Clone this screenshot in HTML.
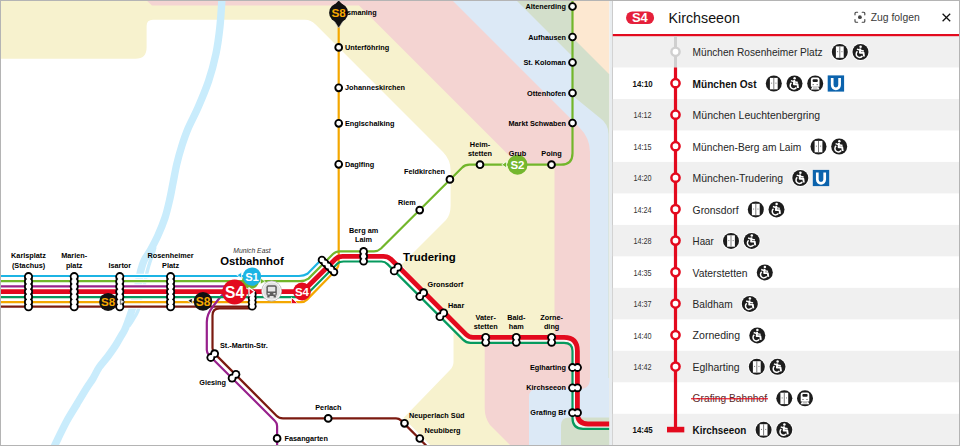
<!DOCTYPE html>
<html lang="de"><head><meta charset="utf-8"><title>S4 Kirchseeon</title>
<style>
html,body{margin:0;padding:0;background:#fff;}
body{width:960px;height:446px;overflow:hidden;position:relative;font-family:"Liberation Sans",sans-serif;}
svg text{font-family:"Liberation Sans",sans-serif;}
</style></head><body>
<svg width="960" height="446" viewBox="0 0 960 446" style="display:block;position:absolute;left:0;top:0">
<defs><clipPath id="mapclip"><rect x="1" y="1" width="608.4" height="444"/></clipPath></defs>
<rect x="0" y="0" width="960" height="446" fill="#ffffff"/>
<g clip-path="url(#mapclip)">
<rect x="0" y="0" width="612" height="446" fill="#fde8d1"/>
<path d="M573,0 L573,38 L609,74 L612,74 L612,446 L0,446 L0,0 Z" fill="#d3dfcb"/>
<path d="M516,0 L573,57 L573,96 L600,118 Q608.5,124 608.5,134 L608.5,446 L0,446 L0,0 Z" fill="#dce9f6"/>
<path d="M452,0 L573,121 L579,127 Q590,138 590,152 L590,446 L0,446 L0,0 Z" fill="#f4d4d2"/>
<path d="M146,0 L152,5.4 L359,5.4 L518.5,165 L549.5,165 Q554.5,165 554.5,170 L554.5,340 L484.7,340 L484.7,408 Q484.7,418 490,425 L512,447 L0,447 L0,0 Z" fill="#f7f2ce"/>
<path d="M529,447 L529,397 Q529,389 537,389 L580,389 Q590,389 590,378 L612,378 L612,447 Z" fill="#dce9f6"/>
<path d="M561,447 L561,425.5 Q561,417.5 569,417.5 L612,417.5 L612,447 Z" fill="#d3dfcb"/>
<path d="M0,58.8 L135.5,58.8 Q146.6,58.8 146.6,47.5 L146.6,26 Q146.6,19.8 153,19.8 L305,19.8 Q311,19.8 315.6,24.6 L443,152 Q450.6,160 450.6,170 L450.6,206 Q450.6,214.5 446,220 L401.5,264.5 L453.5,330 L453.5,362 Q453.5,366.5 450,370 L403.5,418 L432,447 L0,447 Z" fill="#ffffff"/>
<path d="M222,-2 C221.7,2.8 220.9,17.7 219.9,27 C218.9,36.3 217.8,45.0 215.9,54 C214.0,63.0 211.6,72.0 208.6,81 C205.6,90.0 201.2,100.2 197.8,108 C194.4,115.8 191.0,121.7 188.3,128 C185.6,134.3 183.7,140.0 181.8,146 C179.9,152.0 178.2,158.0 176.8,164 C175.4,170.0 174.4,176.0 173.2,182 C172.0,188.0 171.0,194.0 169.6,200 C168.2,206.0 166.9,212.0 164.9,218 C162.9,224.0 160.1,230.7 157.7,236 C155.3,241.3 152.7,246.0 150.5,250 C148.3,254.0 145.9,256.7 144.3,260 C142.7,263.3 142.0,265.7 140.9,270 C139.8,274.3 138.8,280.9 137.8,286 C136.8,291.1 135.7,296.4 134.7,300.5 C133.7,304.6 132.8,307.2 131.7,310.6 C130.6,314.0 129.5,317.4 128.3,320.6 C127.1,323.8 125.9,327.3 124.6,330 C123.3,332.7 121.9,334.5 120.5,337 C119.1,339.5 118.0,341.6 116,344.8 C114.0,348.0 111.0,352.2 108.2,356 C105.4,359.8 101.7,363.6 99.2,367.3 C96.7,371.1 95.0,375.2 93,378.5 C91.0,381.8 90.0,382.8 87.3,387 C84.6,391.2 80.4,398.3 77,404 C73.6,409.7 69.9,415.3 66.8,421 C63.7,426.7 60.6,433.3 58.3,438 C56.0,442.7 53.9,447.2 53,449" fill="none" stroke="#c9ecfc" stroke-width="7.4"/>
<path d="M155,247 C154.7,248.2 153.7,251.8 153,254 C152.3,256.2 151.5,257.3 150.6,260 C149.7,262.7 148.7,265.7 147.6,270 C146.5,274.3 145.1,280.9 143.9,286 C142.7,291.1 141.3,296.4 140.3,300.5 C139.3,304.6 139.2,307.4 138.0,310.6 C136.8,313.9 134.5,317.4 133,320 C131.5,322.6 129.7,325.0 129,326" fill="none" stroke="#c9ecfc" stroke-width="3.4"/>
<path d="M0,276.0 L300,276.0" stroke="#fff" stroke-width="4.5" fill="none"/>
<path d="M0,281.1 L300,281.1" stroke="#fff" stroke-width="4.5" fill="none"/>
<path d="M0,286.4 L300,286.4" stroke="#fff" stroke-width="4.5" fill="none"/>
<path d="M0,291.7 L300,291.7" stroke="#fff" stroke-width="6.8" fill="none"/>
<path d="M0,297.1 L300,297.1" stroke="#fff" stroke-width="4.5" fill="none"/>
<path d="M0,302.1 L300,302.1" stroke="#fff" stroke-width="4.5" fill="none"/>
<path d="M0,306.6 L300,306.6" stroke="#fff" stroke-width="4.5" fill="none"/>
<path d="M0.00,295.05 L298.43,295.05 Q302.93,295.05 305.93,292.67 L336.74,261.79 Q339.01,259.52 343.12,259.52 L382.26,259.52 Q386.08,259.52 388.83,262.28 L464.14,337.62 Q467.26,340.71 471.45,340.71 L564.00,340.71 Q574.36,340.71 574.36,351.00 L574.36,416.10 Q574.36,426.98 584.90,426.98 L612.00,426.98" fill="none" stroke="#fff" stroke-opacity="0.75" stroke-width="2.4" stroke-linejoin="round"/>
<path d="M0,306.6 L249,306.6" fill="none" stroke="#7b1a10" stroke-width="2.2" stroke-linejoin="round"/>
<path d="M249,308.4 L219.5,308.4 Q212.5,308.4 212.5,315.5 L212.5,348 Q212.5,351 214.4,353.4 L276.5,415.7 Q279.1,418.4 283,418.4 L396,418.4 Q399,418.4 401,420.4 L430,449.4" fill="none" stroke="#7b1a10" stroke-width="2.2" stroke-linejoin="round"/>
<path d="M0,302.1 L301,302.1 Q304.5,302.1 307,299.6 L336,270 Q338.7,267 338.7,263 L338.7,14" fill="none" stroke="#f4a700" stroke-width="2.2" stroke-linejoin="round"/>
<path d="M0,286.4 L226,286.4" fill="none" stroke="#97208c" stroke-width="2.2" stroke-linejoin="round"/>
<path d="M236,290 L227,292.5 Q222.5,294 219.5,298 L213.2,306.2 Q206.8,314 206.8,322 L206.8,350 Q206.8,353 209,355.2 L275,421 Q277.1,423 277.1,426 L277.1,447" fill="none" stroke="#97208c" stroke-width="2.2" stroke-linejoin="round"/>
<path d="M0,276.0 L299,276.0 Q304,276.0 307.5,273.8 L320.5,260.5" fill="none" stroke="#1cb4e4" stroke-width="2.2" stroke-linejoin="round"/>
<path d="M0,281.1 L300,281.1 Q305,281.1 308.5,278.6 L333,254 Q335.7,251.3 340,251.3 L374,251.3 Q378,251.3 381,248.5 L462,167.7 Q465,164.7 469.5,164.7 L561,164.7 Q572.5,164.7 572.5,153.2 L572.5,-2" fill="none" stroke="#72b62b" stroke-width="2.2" stroke-linejoin="round"/>
<path d="M0,297.1 L299,297.1 Q303.5,297.1 306.5,294.8 L337.5,263.5 Q339.5,261.5 343.5,261.5 L381.5,261.5 Q384.9,261.5 387.5,264.1 L463,339.6 Q466.2,342.8 470.5,342.8 L564,342.8 Q572.5,342.8 572.5,351 L572.5,418 Q572.5,428.8 583,428.8 L612,428.8" fill="none" stroke="#069a5e" stroke-width="2.2" stroke-linejoin="round"/>
<path d="M0,291.7 L297.5,291.7 Q302,291.7 305,289.2 L335.5,259 Q338.2,256.3 342.5,256.3 L383.5,256.3 Q388,256.3 391,259.3 L466,334.4 Q469,337.3 473,337.3 L564,337.3 Q577.4,337.3 577.4,351 L577.4,413 Q577.4,424 588,424 L612,424" fill="none" stroke="#e30a1e" stroke-width="4.8" stroke-linejoin="round"/>
<circle cx="28.5" cy="276.6" r="4.5" fill="#000"/>
<circle cx="28.5" cy="281.5" r="4.5" fill="#000"/>
<circle cx="28.5" cy="286.5" r="4.5" fill="#000"/>
<circle cx="28.5" cy="291.6" r="4.5" fill="#000"/>
<circle cx="28.5" cy="296.8" r="4.5" fill="#000"/>
<circle cx="28.5" cy="301.9" r="4.5" fill="#000"/>
<circle cx="28.5" cy="306.7" r="4.5" fill="#000"/>
<path d="M28.5,276.6 L28.5,281.5 L28.5,286.5 L28.5,291.6 L28.5,296.8 L28.5,301.9 L28.5,306.7" stroke="#000" stroke-width="8.0" fill="none"/>
<path d="M28.5,276.6 L28.5,281.5 L28.5,286.5 L28.5,291.6 L28.5,296.8 L28.5,301.9 L28.5,306.7" stroke="#fff" stroke-width="3.0" fill="none"/>
<circle cx="28.5" cy="276.6" r="2.7" fill="#fff"/>
<circle cx="28.5" cy="281.5" r="2.7" fill="#fff"/>
<circle cx="28.5" cy="286.5" r="2.7" fill="#fff"/>
<circle cx="28.5" cy="291.6" r="2.7" fill="#fff"/>
<circle cx="28.5" cy="296.8" r="2.7" fill="#fff"/>
<circle cx="28.5" cy="301.9" r="2.7" fill="#fff"/>
<circle cx="28.5" cy="306.7" r="2.7" fill="#fff"/>
<circle cx="74.2" cy="276.6" r="4.5" fill="#000"/>
<circle cx="74.2" cy="281.5" r="4.5" fill="#000"/>
<circle cx="74.2" cy="286.5" r="4.5" fill="#000"/>
<circle cx="74.2" cy="291.6" r="4.5" fill="#000"/>
<circle cx="74.2" cy="296.8" r="4.5" fill="#000"/>
<circle cx="74.2" cy="301.9" r="4.5" fill="#000"/>
<circle cx="74.2" cy="306.7" r="4.5" fill="#000"/>
<path d="M74.2,276.6 L74.2,281.5 L74.2,286.5 L74.2,291.6 L74.2,296.8 L74.2,301.9 L74.2,306.7" stroke="#000" stroke-width="8.0" fill="none"/>
<path d="M74.2,276.6 L74.2,281.5 L74.2,286.5 L74.2,291.6 L74.2,296.8 L74.2,301.9 L74.2,306.7" stroke="#fff" stroke-width="3.0" fill="none"/>
<circle cx="74.2" cy="276.6" r="2.7" fill="#fff"/>
<circle cx="74.2" cy="281.5" r="2.7" fill="#fff"/>
<circle cx="74.2" cy="286.5" r="2.7" fill="#fff"/>
<circle cx="74.2" cy="291.6" r="2.7" fill="#fff"/>
<circle cx="74.2" cy="296.8" r="2.7" fill="#fff"/>
<circle cx="74.2" cy="301.9" r="2.7" fill="#fff"/>
<circle cx="74.2" cy="306.7" r="2.7" fill="#fff"/>
<circle cx="119.8" cy="276.6" r="4.5" fill="#000"/>
<circle cx="119.8" cy="281.5" r="4.5" fill="#000"/>
<circle cx="119.8" cy="286.5" r="4.5" fill="#000"/>
<circle cx="119.8" cy="291.6" r="4.5" fill="#000"/>
<circle cx="119.8" cy="296.8" r="4.5" fill="#000"/>
<circle cx="119.8" cy="301.9" r="4.5" fill="#000"/>
<circle cx="119.8" cy="306.7" r="4.5" fill="#000"/>
<path d="M119.8,276.6 L119.8,281.5 L119.8,286.5 L119.8,291.6 L119.8,296.8 L119.8,301.9 L119.8,306.7" stroke="#000" stroke-width="8.0" fill="none"/>
<path d="M119.8,276.6 L119.8,281.5 L119.8,286.5 L119.8,291.6 L119.8,296.8 L119.8,301.9 L119.8,306.7" stroke="#fff" stroke-width="3.0" fill="none"/>
<circle cx="119.8" cy="276.6" r="2.7" fill="#fff"/>
<circle cx="119.8" cy="281.5" r="2.7" fill="#fff"/>
<circle cx="119.8" cy="286.5" r="2.7" fill="#fff"/>
<circle cx="119.8" cy="291.6" r="2.7" fill="#fff"/>
<circle cx="119.8" cy="296.8" r="2.7" fill="#fff"/>
<circle cx="119.8" cy="301.9" r="2.7" fill="#fff"/>
<circle cx="119.8" cy="306.7" r="2.7" fill="#fff"/>
<circle cx="170.6" cy="276.6" r="4.5" fill="#000"/>
<circle cx="170.6" cy="281.5" r="4.5" fill="#000"/>
<circle cx="170.6" cy="286.5" r="4.5" fill="#000"/>
<circle cx="170.6" cy="291.6" r="4.5" fill="#000"/>
<circle cx="170.6" cy="296.8" r="4.5" fill="#000"/>
<circle cx="170.6" cy="301.9" r="4.5" fill="#000"/>
<circle cx="170.6" cy="306.7" r="4.5" fill="#000"/>
<path d="M170.6,276.6 L170.6,281.5 L170.6,286.5 L170.6,291.6 L170.6,296.8 L170.6,301.9 L170.6,306.7" stroke="#000" stroke-width="8.0" fill="none"/>
<path d="M170.6,276.6 L170.6,281.5 L170.6,286.5 L170.6,291.6 L170.6,296.8 L170.6,301.9 L170.6,306.7" stroke="#fff" stroke-width="3.0" fill="none"/>
<circle cx="170.6" cy="276.6" r="2.7" fill="#fff"/>
<circle cx="170.6" cy="281.5" r="2.7" fill="#fff"/>
<circle cx="170.6" cy="286.5" r="2.7" fill="#fff"/>
<circle cx="170.6" cy="291.6" r="2.7" fill="#fff"/>
<circle cx="170.6" cy="296.8" r="2.7" fill="#fff"/>
<circle cx="170.6" cy="301.9" r="2.7" fill="#fff"/>
<circle cx="170.6" cy="306.7" r="2.7" fill="#fff"/>
<circle cx="252.2" cy="294.4" r="4.4" fill="#000"/>
<circle cx="252.2" cy="298.3" r="4.4" fill="#000"/>
<circle cx="252.2" cy="302.2" r="4.4" fill="#000"/>
<circle cx="252.2" cy="306.2" r="4.4" fill="#000"/>
<path d="M252.2,294.4 L252.2,298.3 L252.2,302.2 L252.2,306.2" stroke="#000" stroke-width="6.4" fill="none"/>
<path d="M252.2,294.4 L252.2,298.3 L252.2,302.2 L252.2,306.2" stroke="#fff" stroke-width="2.2" fill="none"/>
<circle cx="252.2" cy="294.4" r="2.6" fill="#fff"/>
<circle cx="252.2" cy="298.3" r="2.6" fill="#fff"/>
<circle cx="252.2" cy="302.2" r="2.6" fill="#fff"/>
<circle cx="252.2" cy="306.2" r="2.6" fill="#fff"/>
<circle cx="321.9" cy="259.9" r="4.2" fill="#000"/>
<circle cx="324.9" cy="262.9" r="4.2" fill="#000"/>
<circle cx="328.0" cy="266.0" r="4.2" fill="#000"/>
<circle cx="331.1" cy="269.1" r="4.2" fill="#000"/>
<circle cx="334.1" cy="272.1" r="4.2" fill="#000"/>
<path d="M321.9,259.9 L324.9,262.9 L328.0,266.0 L331.1,269.1 L334.1,272.1" stroke="#000" stroke-width="7.4" fill="none"/>
<path d="M321.9,259.9 L324.9,262.9 L328.0,266.0 L331.1,269.1 L334.1,272.1" stroke="#fff" stroke-width="2.6" fill="none"/>
<circle cx="321.9" cy="259.9" r="2.4" fill="#fff"/>
<circle cx="324.9" cy="262.9" r="2.4" fill="#fff"/>
<circle cx="328.0" cy="266.0" r="2.4" fill="#fff"/>
<circle cx="331.1" cy="269.1" r="2.4" fill="#fff"/>
<circle cx="334.1" cy="272.1" r="2.4" fill="#fff"/>
<circle cx="363.6" cy="251.4" r="4.3" fill="#000"/>
<circle cx="363.6" cy="256.3" r="4.3" fill="#000"/>
<circle cx="363.6" cy="261.2" r="4.3" fill="#000"/>
<path d="M363.6,251.4 L363.6,256.3 L363.6,261.2" stroke="#000" stroke-width="7.6" fill="none"/>
<path d="M363.6,251.4 L363.6,256.3 L363.6,261.2" stroke="#fff" stroke-width="2.6" fill="none"/>
<circle cx="363.6" cy="251.4" r="2.5" fill="#fff"/>
<circle cx="363.6" cy="256.3" r="2.5" fill="#fff"/>
<circle cx="363.6" cy="261.2" r="2.5" fill="#fff"/>
<circle cx="394.2" cy="270.9" r="4.4" fill="#000"/>
<circle cx="398.0" cy="267.1" r="4.4" fill="#000"/>
<path d="M394.2,270.9 L398.0,267.1" stroke="#000" stroke-width="5.8" fill="none"/>
<path d="M394.2,270.9 L398.0,267.1" stroke="#fff" stroke-width="2.4" fill="none"/>
<circle cx="394.2" cy="270.9" r="2.55" fill="#fff"/>
<circle cx="398.0" cy="267.1" r="2.55" fill="#fff"/>
<circle cx="419.8" cy="296.5" r="4.4" fill="#000"/>
<circle cx="423.6" cy="292.7" r="4.4" fill="#000"/>
<path d="M419.8,296.5 L423.6,292.7" stroke="#000" stroke-width="5.8" fill="none"/>
<path d="M419.8,296.5 L423.6,292.7" stroke="#fff" stroke-width="2.4" fill="none"/>
<circle cx="419.8" cy="296.5" r="2.55" fill="#fff"/>
<circle cx="423.6" cy="292.7" r="2.55" fill="#fff"/>
<circle cx="439.9" cy="316.7" r="4.4" fill="#000"/>
<circle cx="443.7" cy="312.9" r="4.4" fill="#000"/>
<path d="M439.9,316.7 L443.7,312.9" stroke="#000" stroke-width="5.8" fill="none"/>
<path d="M439.9,316.7 L443.7,312.9" stroke="#fff" stroke-width="2.4" fill="none"/>
<circle cx="439.9" cy="316.7" r="2.55" fill="#fff"/>
<circle cx="443.7" cy="312.9" r="2.55" fill="#fff"/>
<circle cx="485.7" cy="337.3" r="4.4" fill="#000"/>
<circle cx="485.7" cy="342.3" r="4.4" fill="#000"/>
<path d="M485.7,337.3 L485.7,342.3" stroke="#000" stroke-width="5.8" fill="none"/>
<path d="M485.7,337.3 L485.7,342.3" stroke="#fff" stroke-width="2.4" fill="none"/>
<circle cx="485.7" cy="337.3" r="2.55" fill="#fff"/>
<circle cx="485.7" cy="342.3" r="2.55" fill="#fff"/>
<circle cx="516.3" cy="337.3" r="4.4" fill="#000"/>
<circle cx="516.3" cy="342.3" r="4.4" fill="#000"/>
<path d="M516.3,337.3 L516.3,342.3" stroke="#000" stroke-width="5.8" fill="none"/>
<path d="M516.3,337.3 L516.3,342.3" stroke="#fff" stroke-width="2.4" fill="none"/>
<circle cx="516.3" cy="337.3" r="2.55" fill="#fff"/>
<circle cx="516.3" cy="342.3" r="2.55" fill="#fff"/>
<circle cx="551.6" cy="337.3" r="4.4" fill="#000"/>
<circle cx="551.6" cy="342.3" r="4.4" fill="#000"/>
<path d="M551.6,337.3 L551.6,342.3" stroke="#000" stroke-width="5.8" fill="none"/>
<path d="M551.6,337.3 L551.6,342.3" stroke="#fff" stroke-width="2.4" fill="none"/>
<circle cx="551.6" cy="337.3" r="2.55" fill="#fff"/>
<circle cx="551.6" cy="342.3" r="2.55" fill="#fff"/>
<circle cx="572.5" cy="367.5" r="4.4" fill="#000"/>
<circle cx="577.5" cy="367.5" r="4.4" fill="#000"/>
<path d="M572.5,367.5 L577.5,367.5" stroke="#000" stroke-width="5.8" fill="none"/>
<path d="M572.5,367.5 L577.5,367.5" stroke="#fff" stroke-width="2.4" fill="none"/>
<circle cx="572.5" cy="367.5" r="2.55" fill="#fff"/>
<circle cx="577.5" cy="367.5" r="2.55" fill="#fff"/>
<circle cx="572.5" cy="387.8" r="4.4" fill="#000"/>
<circle cx="577.5" cy="387.8" r="4.4" fill="#000"/>
<path d="M572.5,387.8 L577.5,387.8" stroke="#000" stroke-width="5.8" fill="none"/>
<path d="M572.5,387.8 L577.5,387.8" stroke="#fff" stroke-width="2.4" fill="none"/>
<circle cx="572.5" cy="387.8" r="2.55" fill="#fff"/>
<circle cx="577.5" cy="387.8" r="2.55" fill="#fff"/>
<circle cx="572.5" cy="412.7" r="4.4" fill="#000"/>
<circle cx="577.5" cy="412.7" r="4.4" fill="#000"/>
<path d="M572.5,412.7 L577.5,412.7" stroke="#000" stroke-width="5.8" fill="none"/>
<path d="M572.5,412.7 L577.5,412.7" stroke="#fff" stroke-width="2.4" fill="none"/>
<circle cx="572.5" cy="412.7" r="2.55" fill="#fff"/>
<circle cx="577.5" cy="412.7" r="2.55" fill="#fff"/>
<circle cx="210.8" cy="357.5" r="4.4" fill="#000"/>
<circle cx="214.6" cy="353.7" r="4.4" fill="#000"/>
<path d="M210.8,357.5 L214.6,353.7" stroke="#000" stroke-width="5.8" fill="none"/>
<path d="M210.8,357.5 L214.6,353.7" stroke="#fff" stroke-width="2.4" fill="none"/>
<circle cx="210.8" cy="357.5" r="2.55" fill="#fff"/>
<circle cx="214.6" cy="353.7" r="2.55" fill="#fff"/>
<circle cx="232.1" cy="378.1" r="4.4" fill="#000"/>
<circle cx="235.9" cy="374.3" r="4.4" fill="#000"/>
<path d="M232.1,378.1 L235.9,374.3" stroke="#000" stroke-width="5.8" fill="none"/>
<path d="M232.1,378.1 L235.9,374.3" stroke="#fff" stroke-width="2.4" fill="none"/>
<circle cx="232.1" cy="378.1" r="2.55" fill="#fff"/>
<circle cx="235.9" cy="374.3" r="2.55" fill="#fff"/>
<circle cx="338.7" cy="47.4" r="3.4" fill="#fff" stroke="#000" stroke-width="1.9"/>
<circle cx="338.7" cy="87.8" r="3.4" fill="#fff" stroke="#000" stroke-width="1.9"/>
<circle cx="338.7" cy="123.3" r="3.4" fill="#fff" stroke="#000" stroke-width="1.9"/>
<circle cx="338.7" cy="164.3" r="3.4" fill="#fff" stroke="#000" stroke-width="1.9"/>
<circle cx="572.5" cy="6.5" r="3.4" fill="#fff" stroke="#000" stroke-width="1.9"/>
<circle cx="572.5" cy="37" r="3.4" fill="#fff" stroke="#000" stroke-width="1.9"/>
<circle cx="572.5" cy="62.5" r="3.4" fill="#fff" stroke="#000" stroke-width="1.9"/>
<circle cx="572.5" cy="93" r="3.4" fill="#fff" stroke="#000" stroke-width="1.9"/>
<circle cx="572.5" cy="123" r="3.4" fill="#fff" stroke="#000" stroke-width="1.9"/>
<circle cx="551.5" cy="164.7" r="3.4" fill="#fff" stroke="#000" stroke-width="1.9"/>
<circle cx="480" cy="164.7" r="3.4" fill="#fff" stroke="#000" stroke-width="1.9"/>
<circle cx="449.9" cy="179.4" r="3.4" fill="#fff" stroke="#000" stroke-width="1.9"/>
<circle cx="419.7" cy="210.1" r="3.4" fill="#fff" stroke="#000" stroke-width="1.9"/>
<circle cx="328.2" cy="418.4" r="3.4" fill="#fff" stroke="#000" stroke-width="1.9"/>
<circle cx="404.5" cy="423.3" r="3.4" fill="#fff" stroke="#000" stroke-width="1.9"/>
<circle cx="419.8" cy="438.5" r="3.4" fill="#fff" stroke="#000" stroke-width="1.9"/>
<circle cx="277.1" cy="438.4" r="3.4" fill="#fff" stroke="#000" stroke-width="1.9"/>
<path d="M120.3,299.2 L124.6,301.8 L120.3,304.4 Z" fill="#e8e8e8" stroke="#333" stroke-width="0.7"/>
<circle cx="108.1" cy="301.9" r="9.0" fill="#111"/>
<text x="108.1" y="306.1" font-size="11.6" font-weight="bold" fill="#f4a700" text-anchor="middle">S8</text>
<path d="M192.2,298 L187.8,300.8 L192.2,303.6 Z" fill="#111" stroke="#fff" stroke-width="0.8"/>
<circle cx="203" cy="301.4" r="9.3" fill="#111"/>
<text x="203" y="305.7" font-size="12" font-weight="bold" fill="#f4a700" text-anchor="middle">S8</text>
<path d="M333.5,6 L338.7,0.5 L344,6 Z" fill="#111"/>
<path d="M333.6,20 L338.7,28 L343.8,20 Z" fill="#111" stroke="#cfcfcf" stroke-width="0.6"/>
<circle cx="338.6" cy="12.8" r="9.5" fill="#111"/>
<text x="338.6" y="17.0" font-size="11.8" font-weight="bold" fill="#f4a700" text-anchor="middle">S8</text>
<path d="M506.6,161.4 L501.8,164.7 L506.6,168 Z" fill="#72b62b" stroke="#fff" stroke-width="0.8"/>
<circle cx="517.5" cy="164.7" r="10" fill="#74b72e"/>
<text x="517.5" y="168.8" font-size="11.5" font-weight="bold" fill="#fff" text-anchor="middle">S2</text>
<circle cx="271.6" cy="291" r="10.4" fill="#bcbcbc"/><circle cx="271.6" cy="291" r="9.6" fill="#ffffff"/><circle cx="271.6" cy="291" r="8.8" fill="#e2e2e2"/>
<rect x="266.4" y="285.2" width="10.4" height="10.8" rx="2" fill="#5d5d5d"/>
<rect x="267.9" y="286.8" width="7.4" height="4.8" rx="0.7" fill="#e6e6e6"/>
<rect x="267.7" y="293" width="2.1" height="1.5" fill="#e6e6e6"/><rect x="273.4" y="293" width="2.1" height="1.5" fill="#e6e6e6"/>
<rect x="267.3" y="296" width="2.3" height="1.5" fill="#5d5d5d"/><rect x="273.6" y="296" width="2.3" height="1.5" fill="#5d5d5d"/>
<path d="M291.5,297.5 L291.5,303.5 L297.5,303.5 Z" fill="#e30a1e" stroke="#fff" stroke-width="0.7"/>
<circle cx="302" cy="291.5" r="8.9" fill="#e30a1e"/>
<text x="302" y="295.6" font-size="11.5" font-weight="bold" fill="#fff" text-anchor="middle">S4</text>
<path d="M260.5,278.3 L265.2,281.3 L260.5,284.3 Z" fill="#72b62b" stroke="#fff" stroke-width="0.7"/>
<circle cx="250.5" cy="280.4" r="8.5" fill="#72b62b"/>
<path d="M241.6,272.3 L236.8,275.2 L241.6,278.2 Z" fill="#1cb4e4" stroke="#fff" stroke-width="0.8"/>
<circle cx="252" cy="276.6" r="9.2" fill="#1cb4e4"/>
<text x="252" y="280.6" font-size="11.2" font-weight="bold" fill="#fff" text-anchor="middle">S1</text>
<circle cx="234.6" cy="292" r="12.4" fill="#e30a1e"/>
<text x="234.6" y="297.6" font-size="15.6" font-weight="bold" fill="#fff" text-anchor="middle">S4</text>
<path d="M249.0,287.7 L254.6,291.8 L249.0,295.9 Z" fill="#e30a1e" stroke="#fff" stroke-width="1.3" stroke-linejoin="round"/>
<text x="28.5" y="258.3" font-size="7.3" font-weight="bold" fill="#000" text-anchor="middle">Karlsplatz</text>
<text x="28.5" y="267.5" font-size="7.3" font-weight="bold" fill="#000" text-anchor="middle">(Stachus)</text>
<text x="74.2" y="258.3" font-size="7.3" font-weight="bold" fill="#000" text-anchor="middle">Marien-</text>
<text x="74.2" y="267.5" font-size="7.3" font-weight="bold" fill="#000" text-anchor="middle">platz</text>
<text x="119.8" y="267.5" font-size="7.3" font-weight="bold" fill="#000" text-anchor="middle">Isartor</text>
<text x="170.6" y="258.3" font-size="7.3" font-weight="bold" fill="#000" text-anchor="middle">Rosenheimer</text>
<text x="170.6" y="267.5" font-size="7.3" font-weight="bold" fill="#000" text-anchor="middle">Platz</text>
<text x="252" y="252.5" font-size="6.8" font-weight="normal" fill="#333" text-anchor="middle" font-style="italic">Munich East</text>
<text x="252" y="265.3" font-size="11.3" font-weight="bold" fill="#000" text-anchor="middle">Ostbahnhof</text>
<text x="429.3" y="260.9" font-size="11.45" font-weight="bold" fill="#000" text-anchor="middle">Trudering</text>
<text x="345" y="14.6" font-size="7.2" font-weight="bold" fill="#000" text-anchor="start">Ismaning</text>
<text x="345" y="50" font-size="7.3" font-weight="bold" fill="#000" text-anchor="start">Unterföhring</text>
<text x="345" y="90.4" font-size="7.3" font-weight="bold" fill="#000" text-anchor="start">Johanneskirchen</text>
<text x="345" y="125.9" font-size="7.3" font-weight="bold" fill="#000" text-anchor="start">Englschalking</text>
<text x="345" y="166.9" font-size="7.3" font-weight="bold" fill="#000" text-anchor="start">Daglfing</text>
<text x="566" y="9" font-size="7.3" font-weight="bold" fill="#000" text-anchor="end">Altenerding</text>
<text x="566" y="39.6" font-size="7.3" font-weight="bold" fill="#000" text-anchor="end">Aufhausen</text>
<text x="566" y="65" font-size="7.3" font-weight="bold" fill="#000" text-anchor="end">St. Koloman</text>
<text x="566" y="95.6" font-size="7.3" font-weight="bold" fill="#000" text-anchor="end">Ottenhofen</text>
<text x="566" y="125.6" font-size="7.3" font-weight="bold" fill="#000" text-anchor="end">Markt Schwaben</text>
<text x="551.5" y="155.9" font-size="7.3" font-weight="bold" fill="#000" text-anchor="middle">Poing</text>
<text x="517.5" y="155.9" font-size="7.3" font-weight="bold" fill="#000" text-anchor="middle">Grub</text>
<text x="480" y="146.8" font-size="7.3" font-weight="bold" fill="#000" text-anchor="middle">Heim-</text>
<text x="480" y="155.9" font-size="7.3" font-weight="bold" fill="#000" text-anchor="middle">stetten</text>
<text x="445" y="173.9" font-size="7.3" font-weight="bold" fill="#000" text-anchor="end">Feldkirchen</text>
<text x="415.8" y="204.6" font-size="7.3" font-weight="bold" fill="#000" text-anchor="end">Riem</text>
<text x="363.6" y="233.4" font-size="7.3" font-weight="bold" fill="#000" text-anchor="middle">Berg am</text>
<text x="363.6" y="242.3" font-size="7.3" font-weight="bold" fill="#000" text-anchor="middle">Laim</text>
<text x="427.5" y="287" font-size="7.3" font-weight="bold" fill="#000" text-anchor="start">Gronsdorf</text>
<text x="448" y="308" font-size="7.3" font-weight="bold" fill="#000" text-anchor="start">Haar</text>
<text x="485.7" y="320" font-size="7.3" font-weight="bold" fill="#000" text-anchor="middle">Vater-</text>
<text x="485.7" y="329.2" font-size="7.3" font-weight="bold" fill="#000" text-anchor="middle">stetten</text>
<text x="516.3" y="320" font-size="7.3" font-weight="bold" fill="#000" text-anchor="middle">Bald-</text>
<text x="516.3" y="329.2" font-size="7.3" font-weight="bold" fill="#000" text-anchor="middle">ham</text>
<text x="551.6" y="320" font-size="7.3" font-weight="bold" fill="#000" text-anchor="middle">Zorne-</text>
<text x="551.6" y="329.2" font-size="7.3" font-weight="bold" fill="#000" text-anchor="middle">ding</text>
<text x="566" y="370" font-size="7.3" font-weight="bold" fill="#000" text-anchor="end">Eglharting</text>
<text x="566" y="390.4" font-size="7.3" font-weight="bold" fill="#000" text-anchor="end">Kirchseeon</text>
<text x="566" y="415.3" font-size="7.3" font-weight="bold" fill="#000" text-anchor="end">Grafing Bf</text>
<text x="220" y="348.4" font-size="7.3" font-weight="bold" fill="#000" text-anchor="start">St.-Martin-Str.</text>
<text x="226" y="385.3" font-size="7.3" font-weight="bold" fill="#000" text-anchor="end">Giesing</text>
<text x="328.4" y="409.7" font-size="7.3" font-weight="bold" fill="#000" text-anchor="middle">Perlach</text>
<text x="409" y="418.1" font-size="7.3" font-weight="bold" fill="#000" text-anchor="start">Neuperlach Süd</text>
<text x="424.5" y="432.9" font-size="7.3" font-weight="bold" fill="#000" text-anchor="start">Neubiberg</text>
<text x="284.5" y="440.8" font-size="7.3" font-weight="bold" fill="#000" text-anchor="start">Fasangarten</text>
</g>
<rect x="609.4" y="1" width="2.8" height="444" fill="#e9edf0"/>
<rect x="612.0" y="1" width="0.9" height="444" fill="#b9b9b9"/>
<rect x="612.8" y="1" width="346.20000000000005" height="444" fill="#ffffff"/>
<rect x="612.8" y="36.00" width="346.20000000000005" height="31.48" fill="#f0f0f0"/>
<rect x="612.8" y="98.96" width="346.20000000000005" height="31.48" fill="#f0f0f0"/>
<rect x="612.8" y="161.92" width="346.20000000000005" height="31.48" fill="#f0f0f0"/>
<rect x="612.8" y="224.88" width="346.20000000000005" height="31.48" fill="#f0f0f0"/>
<rect x="612.8" y="287.84" width="346.20000000000005" height="31.48" fill="#f0f0f0"/>
<rect x="612.8" y="350.80" width="346.20000000000005" height="31.48" fill="#f0f0f0"/>
<rect x="612.8" y="413.76" width="346.20000000000005" height="31.48" fill="#f0f0f0"/>
<rect x="612.8" y="34" width="346.20000000000005" height="2.2" fill="#e30a1e"/>
<rect x="626" y="11.4" width="28.1" height="12.7" rx="6.35" fill="#e5203a"/>
<text x="639.9" y="21.8" font-size="12.3" font-weight="bold" fill="#fff" text-anchor="middle" textLength="15.9" lengthAdjust="spacingAndGlyphs">S4</text>
<text x="668.6" y="22.9" font-size="14.8" fill="#111" textLength="71.2" lengthAdjust="spacingAndGlyphs">Kirchseeon</text>
<g fill="none" stroke="#444" stroke-width="1.15" stroke-linejoin="round" stroke-linecap="round"><path d="M855,14.8 V13.2 Q855,12.2 856,12.2 H857.6"/><path d="M862.2,12.2 H863.8 Q864.8,12.2 864.8,13.2 V14.8"/><path d="M864.8,19.6 V21.2 Q864.8,22.2 863.8,22.2 H862.2"/><path d="M857.6,22.2 H856 Q855,22.2 855,21.2 V19.6"/></g><circle cx="859.9" cy="17.2" r="1.9" fill="#444"/>
<text x="870.7" y="21.3" font-size="10.6" fill="#3a3a3a" textLength="49" lengthAdjust="spacingAndGlyphs">Zug folgen</text>
<path d="M942.6,13.8 L950.2,21.2 M950.2,13.8 L942.6,21.2" stroke="#111" stroke-width="1.25" fill="none"/>
<rect x="674.0" y="36.2" width="3" height="31.48" fill="#cfcfcf"/>
<rect x="673.9" y="67.48" width="3.2" height="362.02" fill="#e30a1e"/>
<rect x="667" y="426.80" width="17.3" height="5.6" fill="#e30a1e"/>
<circle cx="675.5" cy="51.74" r="4.1" fill="#fff" stroke="#cfcfcf" stroke-width="2.4"/>
<circle cx="675.5" cy="83.22" r="4.1" fill="#fff" stroke="#e30a1e" stroke-width="2.5"/>
<circle cx="675.5" cy="114.70" r="4.1" fill="#fff" stroke="#e30a1e" stroke-width="2.5"/>
<circle cx="675.5" cy="146.18" r="4.1" fill="#fff" stroke="#e30a1e" stroke-width="2.5"/>
<circle cx="675.5" cy="177.66" r="4.1" fill="#fff" stroke="#e30a1e" stroke-width="2.5"/>
<circle cx="675.5" cy="209.14" r="4.1" fill="#fff" stroke="#e30a1e" stroke-width="2.5"/>
<circle cx="675.5" cy="240.62" r="4.1" fill="#fff" stroke="#e30a1e" stroke-width="2.5"/>
<circle cx="675.5" cy="272.10" r="4.1" fill="#fff" stroke="#e30a1e" stroke-width="2.5"/>
<circle cx="675.5" cy="303.58" r="4.1" fill="#fff" stroke="#e30a1e" stroke-width="2.5"/>
<circle cx="675.5" cy="335.06" r="4.1" fill="#fff" stroke="#e30a1e" stroke-width="2.5"/>
<circle cx="675.5" cy="366.54" r="4.1" fill="#fff" stroke="#e30a1e" stroke-width="2.5"/>
<text x="692.6" y="56.14" font-size="11.3" font-weight="normal" fill="#262626" textLength="130" lengthAdjust="spacingAndGlyphs">München Rosenheimer Platz</text>
<circle cx="839.8" cy="52.0" r="8.9" fill="#fff"/><circle cx="839.8" cy="52.0" r="8" fill="#1d1d1d"/>
<rect x="835.9" y="46.4" width="7.8" height="11.4" fill="#fff"/>
<rect x="839.3" y="46.4" width="1" height="11.4" fill="#7a7a7a"/>
<rect x="837.2" y="51.1" width="0.9" height="1.1" fill="#777"/><rect x="841.5" y="51.1" width="0.9" height="1.1" fill="#777"/>
<circle cx="860.5" cy="52.0" r="8.9" fill="#fff"/><circle cx="860.5" cy="52.0" r="8" fill="#1d1d1d"/>
<circle cx="860.6" cy="46.7" r="1.25" fill="#fff"/>
<path d="M860.3,48.5 L859.9,52.7 L863.5,52.7 L864.0,56.5" fill="none" stroke="#fff" stroke-width="1.9" stroke-linejoin="round"/>
<path d="M856.9,49.1 L860.1,50.2 L863.8,51.0" fill="none" stroke="#fff" stroke-width="1.4" stroke-linejoin="round"/>
<path d="M857.5,51.4 A3.4,3.4 0 1 0 862.4,56.0" fill="none" stroke="#fff" stroke-width="1.5"/>
<text x="642.6" y="86.92" font-size="9" font-weight="bold" fill="#111" text-anchor="middle" textLength="20.2" lengthAdjust="spacingAndGlyphs">14:10</text>
<text x="692.6" y="87.62" font-size="11.3" font-weight="bold" fill="#111" textLength="64" lengthAdjust="spacingAndGlyphs">München Ost</text>
<circle cx="773.8" cy="83.5" r="8.9" fill="#fff"/><circle cx="773.8" cy="83.5" r="8" fill="#1d1d1d"/>
<rect x="769.9" y="77.9" width="7.8" height="11.4" fill="#fff"/>
<rect x="773.3" y="77.9" width="1" height="11.4" fill="#7a7a7a"/>
<rect x="771.2" y="82.6" width="0.9" height="1.1" fill="#777"/><rect x="775.5" y="82.6" width="0.9" height="1.1" fill="#777"/>
<circle cx="794.5" cy="83.5" r="8.9" fill="#fff"/><circle cx="794.5" cy="83.5" r="8" fill="#1d1d1d"/>
<circle cx="794.6" cy="78.2" r="1.25" fill="#fff"/>
<path d="M794.3,80.0 L793.9,84.2 L797.5,84.2 L798.0,88.0" fill="none" stroke="#fff" stroke-width="1.9" stroke-linejoin="round"/>
<path d="M790.9,80.6 L794.1,81.7 L797.8,82.5" fill="none" stroke="#fff" stroke-width="1.4" stroke-linejoin="round"/>
<path d="M791.5,82.9 A3.4,3.4 0 1 0 796.4,87.5" fill="none" stroke="#fff" stroke-width="1.5"/>
<circle cx="815.2" cy="83.5" r="8.9" fill="#fff"/><circle cx="815.2" cy="83.5" r="8" fill="#1d1d1d"/>
<path d="M810.9,86.7 V79.6 Q810.9,77.6 812.9,77.6 H817.5 Q819.5,77.6 819.5,79.6 V86.7 Z" fill="#fff"/>
<rect x="812.6" y="79.2" width="5.2" height="2.7" rx="1" fill="#1d1d1d"/>
<rect x="812.6" y="84.3" width="1.2" height="0.8" fill="#444"/><rect x="816.6" y="84.3" width="1.2" height="0.8" fill="#444"/>
<path d="M812.2,86.7 L810.8,89.4 L819.6,89.4 L818.2,86.7 Z" fill="#fff"/>
<rect x="812.9" y="87.4" width="4.6" height="1.2" fill="#aaa"/>
<rect x="827.6999999999999" y="75.4" width="16.4" height="16.2" fill="#0b63ad"/>
<path d="M832.1999999999999,77.9 V85.1 A3.7,3.7 0 0 0 839.6,85.1 V77.9" fill="none" stroke="#fff" stroke-width="2.7"/>
<text x="642.6" y="118.40" font-size="9" font-weight="normal" fill="#333" text-anchor="middle" textLength="18.1" lengthAdjust="spacingAndGlyphs">14:12</text>
<text x="692.6" y="119.10" font-size="11.3" font-weight="normal" fill="#262626" textLength="127.5" lengthAdjust="spacingAndGlyphs">München Leuchtenbergring</text>
<text x="642.6" y="149.88" font-size="9" font-weight="normal" fill="#333" text-anchor="middle" textLength="18.1" lengthAdjust="spacingAndGlyphs">14:15</text>
<text x="692.6" y="150.58" font-size="11.3" font-weight="normal" fill="#262626" textLength="108.7" lengthAdjust="spacingAndGlyphs">München-Berg am Laim</text>
<circle cx="818.5" cy="146.5" r="8.9" fill="#fff"/><circle cx="818.5" cy="146.5" r="8" fill="#1d1d1d"/>
<rect x="814.6" y="140.9" width="7.8" height="11.4" fill="#fff"/>
<rect x="818.0" y="140.9" width="1" height="11.4" fill="#7a7a7a"/>
<rect x="815.9" y="145.6" width="0.9" height="1.1" fill="#777"/><rect x="820.2" y="145.6" width="0.9" height="1.1" fill="#777"/>
<circle cx="839.2" cy="146.5" r="8.9" fill="#fff"/><circle cx="839.2" cy="146.5" r="8" fill="#1d1d1d"/>
<circle cx="839.3" cy="141.2" r="1.25" fill="#fff"/>
<path d="M839.0,143.0 L838.6,147.2 L842.2,147.2 L842.7,151.0" fill="none" stroke="#fff" stroke-width="1.9" stroke-linejoin="round"/>
<path d="M835.6,143.6 L838.8,144.7 L842.5,145.5" fill="none" stroke="#fff" stroke-width="1.4" stroke-linejoin="round"/>
<path d="M836.2,145.9 A3.4,3.4 0 1 0 841.1,150.5" fill="none" stroke="#fff" stroke-width="1.5"/>
<text x="642.6" y="181.36" font-size="9" font-weight="normal" fill="#333" text-anchor="middle" textLength="18.1" lengthAdjust="spacingAndGlyphs">14:20</text>
<text x="692.6" y="182.06" font-size="11.3" font-weight="normal" fill="#262626" textLength="90.5" lengthAdjust="spacingAndGlyphs">München-Trudering</text>
<circle cx="800.3" cy="178.0" r="8.9" fill="#fff"/><circle cx="800.3" cy="178.0" r="8" fill="#1d1d1d"/>
<circle cx="800.4" cy="172.7" r="1.25" fill="#fff"/>
<path d="M800.1,174.5 L799.7,178.7 L803.3,178.7 L803.8,182.5" fill="none" stroke="#fff" stroke-width="1.9" stroke-linejoin="round"/>
<path d="M796.7,175.1 L799.9,176.2 L803.6,177.0" fill="none" stroke="#fff" stroke-width="1.4" stroke-linejoin="round"/>
<path d="M797.3,177.4 A3.4,3.4 0 1 0 802.2,182.0" fill="none" stroke="#fff" stroke-width="1.5"/>
<rect x="812.8" y="169.9" width="16.4" height="16.2" fill="#0b63ad"/>
<path d="M817.3,172.4 V179.6 A3.7,3.7 0 0 0 824.7,179.6 V172.4" fill="none" stroke="#fff" stroke-width="2.7"/>
<text x="642.6" y="212.84" font-size="9" font-weight="normal" fill="#333" text-anchor="middle" textLength="18.1" lengthAdjust="spacingAndGlyphs">14:24</text>
<text x="692.6" y="213.54" font-size="11.3" font-weight="normal" fill="#262626" textLength="46" lengthAdjust="spacingAndGlyphs">Gronsdorf</text>
<circle cx="755.8" cy="209.4" r="8.9" fill="#fff"/><circle cx="755.8" cy="209.4" r="8" fill="#1d1d1d"/>
<rect x="751.9" y="203.8" width="7.8" height="11.4" fill="#fff"/>
<rect x="755.3" y="203.8" width="1" height="11.4" fill="#7a7a7a"/>
<rect x="753.2" y="208.5" width="0.9" height="1.1" fill="#777"/><rect x="757.5" y="208.5" width="0.9" height="1.1" fill="#777"/>
<circle cx="776.5" cy="209.4" r="8.9" fill="#fff"/><circle cx="776.5" cy="209.4" r="8" fill="#1d1d1d"/>
<circle cx="776.6" cy="204.1" r="1.25" fill="#fff"/>
<path d="M776.3,205.9 L775.9,210.1 L779.5,210.1 L780.0,213.9" fill="none" stroke="#fff" stroke-width="1.9" stroke-linejoin="round"/>
<path d="M772.9,206.5 L776.1,207.6 L779.8,208.4" fill="none" stroke="#fff" stroke-width="1.4" stroke-linejoin="round"/>
<path d="M773.5,208.8 A3.4,3.4 0 1 0 778.4,213.4" fill="none" stroke="#fff" stroke-width="1.5"/>
<text x="642.6" y="244.32" font-size="9" font-weight="normal" fill="#333" text-anchor="middle" textLength="18.1" lengthAdjust="spacingAndGlyphs">14:28</text>
<text x="692.6" y="245.02" font-size="11.3" font-weight="normal" fill="#262626" textLength="21.2" lengthAdjust="spacingAndGlyphs">Haar</text>
<circle cx="731.0" cy="240.9" r="8.9" fill="#fff"/><circle cx="731.0" cy="240.9" r="8" fill="#1d1d1d"/>
<rect x="727.1" y="235.3" width="7.8" height="11.4" fill="#fff"/>
<rect x="730.5" y="235.3" width="1" height="11.4" fill="#7a7a7a"/>
<rect x="728.4" y="240.0" width="0.9" height="1.1" fill="#777"/><rect x="732.7" y="240.0" width="0.9" height="1.1" fill="#777"/>
<circle cx="751.7" cy="240.9" r="8.9" fill="#fff"/><circle cx="751.7" cy="240.9" r="8" fill="#1d1d1d"/>
<circle cx="751.8" cy="235.6" r="1.25" fill="#fff"/>
<path d="M751.5,237.4 L751.1,241.6 L754.7,241.6 L755.2,245.4" fill="none" stroke="#fff" stroke-width="1.9" stroke-linejoin="round"/>
<path d="M748.1,238.0 L751.3,239.1 L755.0,239.9" fill="none" stroke="#fff" stroke-width="1.4" stroke-linejoin="round"/>
<path d="M748.7,240.3 A3.4,3.4 0 1 0 753.6,244.9" fill="none" stroke="#fff" stroke-width="1.5"/>
<text x="642.6" y="275.80" font-size="9" font-weight="normal" fill="#333" text-anchor="middle" textLength="18.1" lengthAdjust="spacingAndGlyphs">14:35</text>
<text x="692.6" y="276.50" font-size="11.3" font-weight="normal" fill="#262626" textLength="55" lengthAdjust="spacingAndGlyphs">Vaterstetten</text>
<circle cx="764.8" cy="272.4" r="8.9" fill="#fff"/><circle cx="764.8" cy="272.4" r="8" fill="#1d1d1d"/>
<circle cx="764.9" cy="267.1" r="1.25" fill="#fff"/>
<path d="M764.6,268.9 L764.2,273.1 L767.8,273.1 L768.3,276.9" fill="none" stroke="#fff" stroke-width="1.9" stroke-linejoin="round"/>
<path d="M761.2,269.5 L764.4,270.6 L768.1,271.4" fill="none" stroke="#fff" stroke-width="1.4" stroke-linejoin="round"/>
<path d="M761.8,271.8 A3.4,3.4 0 1 0 766.7,276.4" fill="none" stroke="#fff" stroke-width="1.5"/>
<text x="642.6" y="307.28" font-size="9" font-weight="normal" fill="#333" text-anchor="middle" textLength="18.1" lengthAdjust="spacingAndGlyphs">14:37</text>
<text x="692.6" y="307.98" font-size="11.3" font-weight="normal" fill="#262626" textLength="40" lengthAdjust="spacingAndGlyphs">Baldham</text>
<circle cx="749.8" cy="303.9" r="8.9" fill="#fff"/><circle cx="749.8" cy="303.9" r="8" fill="#1d1d1d"/>
<circle cx="749.9" cy="298.6" r="1.25" fill="#fff"/>
<path d="M749.6,300.4 L749.2,304.6 L752.8,304.6 L753.3,308.4" fill="none" stroke="#fff" stroke-width="1.9" stroke-linejoin="round"/>
<path d="M746.2,301.0 L749.4,302.1 L753.1,302.9" fill="none" stroke="#fff" stroke-width="1.4" stroke-linejoin="round"/>
<path d="M746.8,303.3 A3.4,3.4 0 1 0 751.7,307.9" fill="none" stroke="#fff" stroke-width="1.5"/>
<text x="642.6" y="338.76" font-size="9" font-weight="normal" fill="#333" text-anchor="middle" textLength="18.1" lengthAdjust="spacingAndGlyphs">14:40</text>
<text x="692.6" y="339.46" font-size="11.3" font-weight="normal" fill="#262626" textLength="47.5" lengthAdjust="spacingAndGlyphs">Zorneding</text>
<circle cx="757.3" cy="335.4" r="8.9" fill="#fff"/><circle cx="757.3" cy="335.4" r="8" fill="#1d1d1d"/>
<circle cx="757.4" cy="330.1" r="1.25" fill="#fff"/>
<path d="M757.1,331.9 L756.7,336.1 L760.3,336.1 L760.8,339.9" fill="none" stroke="#fff" stroke-width="1.9" stroke-linejoin="round"/>
<path d="M753.7,332.5 L756.9,333.6 L760.6,334.4" fill="none" stroke="#fff" stroke-width="1.4" stroke-linejoin="round"/>
<path d="M754.3,334.8 A3.4,3.4 0 1 0 759.2,339.4" fill="none" stroke="#fff" stroke-width="1.5"/>
<text x="642.6" y="370.24" font-size="9" font-weight="normal" fill="#333" text-anchor="middle" textLength="18.1" lengthAdjust="spacingAndGlyphs">14:42</text>
<text x="692.6" y="370.94" font-size="11.3" font-weight="normal" fill="#262626" textLength="47" lengthAdjust="spacingAndGlyphs">Eglharting</text>
<circle cx="756.8" cy="366.8" r="8.9" fill="#fff"/><circle cx="756.8" cy="366.8" r="8" fill="#1d1d1d"/>
<rect x="752.9" y="361.2" width="7.8" height="11.4" fill="#fff"/>
<rect x="756.3" y="361.2" width="1" height="11.4" fill="#7a7a7a"/>
<rect x="754.2" y="365.9" width="0.9" height="1.1" fill="#777"/><rect x="758.5" y="365.9" width="0.9" height="1.1" fill="#777"/>
<circle cx="777.5" cy="366.8" r="8.9" fill="#fff"/><circle cx="777.5" cy="366.8" r="8" fill="#1d1d1d"/>
<circle cx="777.6" cy="361.5" r="1.25" fill="#fff"/>
<path d="M777.3,363.3 L776.9,367.5 L780.5,367.5 L781.0,371.3" fill="none" stroke="#fff" stroke-width="1.9" stroke-linejoin="round"/>
<path d="M773.9,363.9 L777.1,365.0 L780.8,365.8" fill="none" stroke="#fff" stroke-width="1.4" stroke-linejoin="round"/>
<path d="M774.5,366.2 A3.4,3.4 0 1 0 779.4,370.8" fill="none" stroke="#fff" stroke-width="1.5"/>
<text x="692.6" y="402.42" font-size="11.3" font-weight="normal" fill="#5a2a2a" textLength="74.5" lengthAdjust="spacingAndGlyphs">Grafing Bahnhof</text>
<rect x="691" y="398.22" width="77" height="1.1" fill="#e30a1e"/>
<circle cx="784.3" cy="398.3" r="8.9" fill="#fff"/><circle cx="784.3" cy="398.3" r="8" fill="#1d1d1d"/>
<rect x="780.4" y="392.7" width="7.8" height="11.4" fill="#fff"/>
<rect x="783.8" y="392.7" width="1" height="11.4" fill="#7a7a7a"/>
<rect x="781.7" y="397.4" width="0.9" height="1.1" fill="#777"/><rect x="786.0" y="397.4" width="0.9" height="1.1" fill="#777"/>
<circle cx="805.0" cy="398.3" r="8.9" fill="#fff"/><circle cx="805.0" cy="398.3" r="8" fill="#1d1d1d"/>
<path d="M800.7,401.5 V394.4 Q800.7,392.4 802.7,392.4 H807.3 Q809.3,392.4 809.3,394.4 V401.5 Z" fill="#fff"/>
<rect x="802.4" y="394.0" width="5.2" height="2.7" rx="1" fill="#1d1d1d"/>
<rect x="802.4" y="399.1" width="1.2" height="0.8" fill="#444"/><rect x="806.4" y="399.1" width="1.2" height="0.8" fill="#444"/>
<path d="M802.0,401.5 L800.6,404.2 L809.4,404.2 L808.0,401.5 Z" fill="#fff"/>
<rect x="802.7" y="402.2" width="4.6" height="1.2" fill="#aaa"/>
<text x="642.6" y="433.20" font-size="9" font-weight="bold" fill="#111" text-anchor="middle" textLength="20.2" lengthAdjust="spacingAndGlyphs">14:45</text>
<text x="692.6" y="433.90" font-size="11.3" font-weight="bold" fill="#111" textLength="53.8" lengthAdjust="spacingAndGlyphs">Kirchseeon</text>
<circle cx="763.6" cy="429.8" r="8.9" fill="#fff"/><circle cx="763.6" cy="429.8" r="8" fill="#1d1d1d"/>
<rect x="759.7" y="424.2" width="7.8" height="11.4" fill="#fff"/>
<rect x="763.1" y="424.2" width="1" height="11.4" fill="#7a7a7a"/>
<rect x="761.0" y="428.9" width="0.9" height="1.1" fill="#777"/><rect x="765.3" y="428.9" width="0.9" height="1.1" fill="#777"/>
<circle cx="784.3" cy="429.8" r="8.9" fill="#fff"/><circle cx="784.3" cy="429.8" r="8" fill="#1d1d1d"/>
<circle cx="784.4" cy="424.5" r="1.25" fill="#fff"/>
<path d="M784.1,426.3 L783.7,430.5 L787.3,430.5 L787.8,434.3" fill="none" stroke="#fff" stroke-width="1.9" stroke-linejoin="round"/>
<path d="M780.7,426.9 L783.9,428.0 L787.6,428.8" fill="none" stroke="#fff" stroke-width="1.4" stroke-linejoin="round"/>
<path d="M781.3,429.2 A3.4,3.4 0 1 0 786.2,433.8" fill="none" stroke="#fff" stroke-width="1.5"/>
<rect x="0.5" y="0.5" width="959" height="445" fill="none" stroke="#b4b4b4" stroke-width="1"/>
</svg>
</body></html>
